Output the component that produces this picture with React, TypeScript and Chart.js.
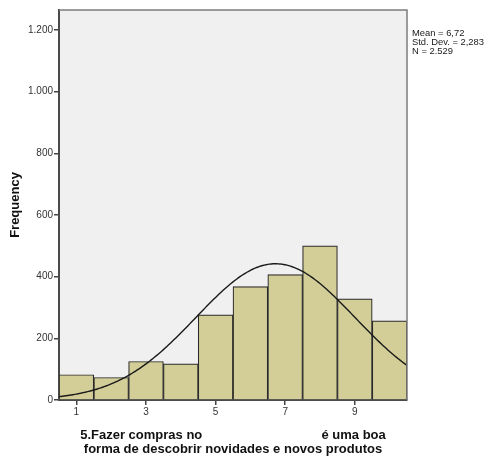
import React, { useEffect, useRef } from "react";
import { Chart, registerables } from "chart.js";

Chart.register(...registerables);

// Histogram bins (scale values 1..10) and their counts
const binCenters = [1, 2, 3, 4, 5, 6, 7, 8, 9, 10];
const frequencies = [82, 73, 125, 117, 276, 368, 407, 500, 328, 257];

// Axis ticks
const xTickValues = [1, 3, 5, 7, 9];
const yTickValues = [0, 200, 400, 600, 800, 1000, 1200];

// Summary statistics shown beside the plot
const statMean = 6.72;
const statSd = 2.283;
const statN = 2529;
const statLines = ["Mean = 6,72", "Std. Dev. = 2,283", "N = 2.529"];

const xTitleLines = [
  "5.Fazer compras no" + " ".repeat(33) + "é uma boa",
  "forma de descobrir novidades e novos produtos",
];
const yTitle = "Frequency";

const FONT = "'Liberation Sans', Arial, Helvetica, sans-serif";

// Normal curve scaled to counts (bin width 1)
function normalCurve(from: number, to: number, step: number) {
  const pts: { x: number; y: number }[] = [];
  const k = statN / (statSd * Math.sqrt(2 * Math.PI));
  for (let x = from; x <= to + 1e-9; x += step) {
    const z = (x - statMean) / statSd;
    pts.push({ x, y: k * Math.exp(-0.5 * z * z) });
  }
  return pts;
}

const fmtThousands = (v: number) =>
  String(v).replace(/\B(?=(\d{3})+(?!\d))/g, ".");

const plotFrame = {
  id: "plotFrame",
  beforeDraw(chart: any) {
    const { ctx, chartArea: a } = chart;
    ctx.save();
    ctx.fillStyle = "#f0f0f0";
    ctx.fillRect(a.left, a.top, a.right - a.left, a.bottom - a.top);
    ctx.restore();
  },
  afterDraw(chart: any) {
    const { ctx, chartArea: a } = chart;
    ctx.save();
    ctx.strokeStyle = "#7c7c7c";
    ctx.lineWidth = 1.5;
    ctx.beginPath();
    ctx.moveTo(a.left, a.top);
    ctx.lineTo(a.right, a.top);
    ctx.lineTo(a.right, a.bottom);
    ctx.stroke();
    // statistics block
    ctx.fillStyle = "#1a1a1a";
    ctx.font = `9.4px ${FONT}`;
    ctx.textAlign = "left";
    ctx.textBaseline = "middle";
    statLines.forEach((t, i) => ctx.fillText(t, a.right + 5, 33 + i * 9));
    ctx.restore();
  },
};

export default function App() {
  const ref = useRef<HTMLCanvasElement>(null);

  useEffect(() => {
    Chart.defaults.font.family = FONT;
    const chart = new Chart(ref.current!, {
      type: "bar",
      data: {
        datasets: [
          {
            type: "line",
            data: normalCurve(0.5, 10.5, 0.05),
            borderColor: "#1a1a1a",
            borderWidth: 1.4,
            pointRadius: 0,
            tension: 0,
            fill: false,
            order: 0,
          } as any,
          {
            type: "bar",
            data: binCenters.map((x, i) => ({ x, y: frequencies[i] })),
            backgroundColor: "#d3ce98",
            borderColor: "#2a2a2a",
            borderWidth: 1.2,
            barPercentage: 1,
            categoryPercentage: 1,
            order: 1,
          },
        ],
      },
      options: {
        responsive: false,
        animation: false,
        layout: { padding: { left: 0, top: 10, right: 80, bottom: 0 } },
        plugins: { legend: { display: false }, tooltip: { enabled: false } },
        scales: {
          x: {
            type: "linear",
            min: 0.5,
            max: 10.5,
            offset: false,
            afterBuildTicks: (s: any) => {
              s.ticks = xTickValues.map((v) => ({ value: v }));
            },
            afterFit: (s: any) => {
              s.height = 56;
            },
            grid: {
              display: true,
              offset: false,
              drawOnChartArea: false,
              drawTicks: true,
              tickLength: 5,
              color: "#444",
              lineWidth: 1.5,
            },
            border: { display: true, color: "#4a4a4a", width: 2 },
            ticks: {
              color: "#333",
              font: { size: 10 },
              padding: 1,
              maxRotation: 0,
              autoSkip: false,
              callback: (v: any) => String(v),
            },
            title: {
              display: true,
              text: xTitleLines,
              color: "#111",
              font: { size: 13, weight: "bold", lineHeight: "14px" },
              padding: { top: 0, bottom: 0 },
            },
          },
          y: {
            type: "linear",
            min: 0,
            max: 1265,
            afterBuildTicks: (s: any) => {
              s.ticks = yTickValues.map((v) => ({ value: v }));
            },
            afterFit: (s: any) => {
              s.width = 59;
            },
            grid: {
              display: true,
              drawOnChartArea: false,
              drawTicks: true,
              tickLength: 5,
              color: "#444",
              lineWidth: 1.5,
            },
            border: { display: true, color: "#4a4a4a", width: 2 },
            ticks: {
              color: "#333",
              font: { size: 10 },
              padding: 1,
              autoSkip: false,
              callback: (v: any) => fmtThousands(Number(v)),
            },
            title: {
              display: true,
              text: yTitle,
              color: "#111",
              font: { size: 13, weight: "bold", lineHeight: "14px" },
              padding: { top: 8, bottom: 0 },
            },
          },
        },
      },
      plugins: [plotFrame],
    });
    return () => chart.destroy();
  }, []);

  return (
    <div style={{ position: "absolute", left: 0, top: 0, width: 487, height: 456 }}>
      <canvas ref={ref} width={487} height={456} style={{ display: "block" }} />
    </div>
  );
}
